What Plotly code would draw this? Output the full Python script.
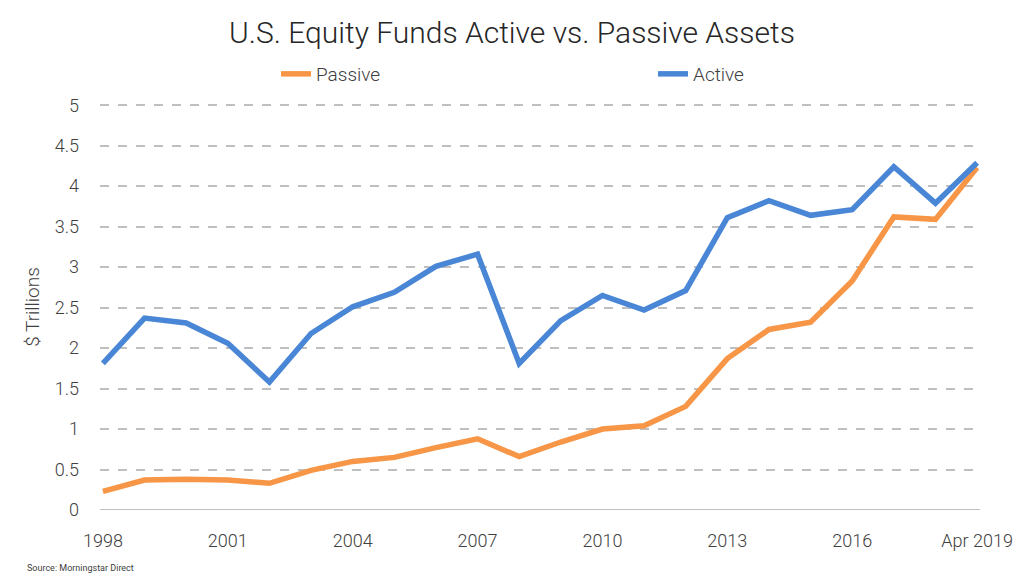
import plotly.graph_objects as go

years = ["1998", "1999", "2000", "2001", "2002", "2003", "2004", "2005", "2006", "2007",
         "2008", "2009", "2010", "2011", "2012", "2013", "2014", "2015", "2016", "2017",
         "2018", "Apr 2019"]
passive = [0.23, 0.37, 0.38, 0.37, 0.33, 0.49, 0.60, 0.65, 0.77, 0.88,
           0.66, 0.84, 1.00, 1.04, 1.28, 1.87, 2.23, 2.32, 2.83, 3.62,
           3.59, 4.23]
active = [1.81, 2.37, 2.31, 2.06, 1.58, 2.18, 2.51, 2.69, 3.01, 3.16,
          1.81, 2.34, 2.65, 2.47, 2.71, 3.61, 3.82, 3.64, 3.71, 4.24,
          3.79, 4.29]
tick_labels = ["1998", "2001", "2004", "2007", "2010", "2013", "2016", "Apr 2019"]
y_ticks = [0, 0.5, 1, 1.5, 2, 2.5, 3, 3.5, 4, 4.5, 5]

FONT = "Roboto, Liberation Sans Narrow, sans-serif"
xi = list(range(len(years)))
tick_pos = [years.index(t) for t in tick_labels]

fig = go.Figure()
fig.add_trace(go.Scatter(x=xi, y=passive, name="Passive", mode="lines",
                         line=dict(color="#F79646", width=5.5), legend="legend"))
fig.add_trace(go.Scatter(x=xi, y=active, name="Active", mode="lines",
                         line=dict(color="#4A86D6", width=5.5), legend="legend2"))

legend_common = dict(orientation="h", yanchor="middle", xanchor="left",
                     xref="container", yref="container", bgcolor="rgba(0,0,0,0)",
                     font=dict(size=19, color="#404040", family=FONT, weight=300))

fig.update_layout(
    width=1024, height=587,
    paper_bgcolor="white", plot_bgcolor="white",
    margin=dict(l=100, r=44, t=104, b=77, autoexpand=False),
    font=dict(family=FONT, color="#404040"),
    title=dict(text="U.S. Equity Funds Active vs. Passive Assets",
               x=0.5, xanchor="center", xref="container",
               y=1 - 32 / 587, yanchor="middle", yref="container",
               font=dict(size=30, color="#262626", family=FONT, weight=300)),
    legend=dict(x=276 / 1024, y=1 - 74 / 587, **legend_common),
    legend2=dict(x=653 / 1024, y=1 - 74 / 587, **legend_common),
    showlegend=True,
    xaxis=dict(range=[-0.07, 21.07], tickmode="array", tickvals=tick_pos,
               ticktext=tick_labels, showgrid=False, zeroline=False,
               showline=False, ticks="",
               tickfont=dict(size=18, color="#404040", weight=300),
               ticklabelstandoff=18),
    yaxis=dict(range=[0, 5.015], tickmode="array", tickvals=y_ticks,
               ticktext=[f"{v:g}" for v in y_ticks],
               showgrid=True, gridcolor="#BFBFBF", griddash="dash", gridwidth=1.5,
               zeroline=False, showline=False, ticks="",
               tickfont=dict(size=18, color="#404040", weight=300),
               ticklabelstandoff=20,
               title=dict(text="$ Trillions",
                          font=dict(size=19, color="#404040", weight=300),
                          standoff=10)),
)

# solid baseline at zero
fig.add_shape(type="line", xref="paper", yref="y", x0=0, x1=1, y0=0, y1=0,
              line=dict(color="#BFBFBF", width=2), layer="below")

fig.add_annotation(text="Source: Morningstar Direct", xref="paper", yref="paper",
                   x=-75 / 880, y=-58 / 406, xanchor="left", yanchor="middle",
                   showarrow=False,
                   font=dict(size=9, color="#404040", family=FONT))

fig.write_html("out.html",
               config={"displayModeBar": False},
               post_script="document.body.style.margin='0';")
